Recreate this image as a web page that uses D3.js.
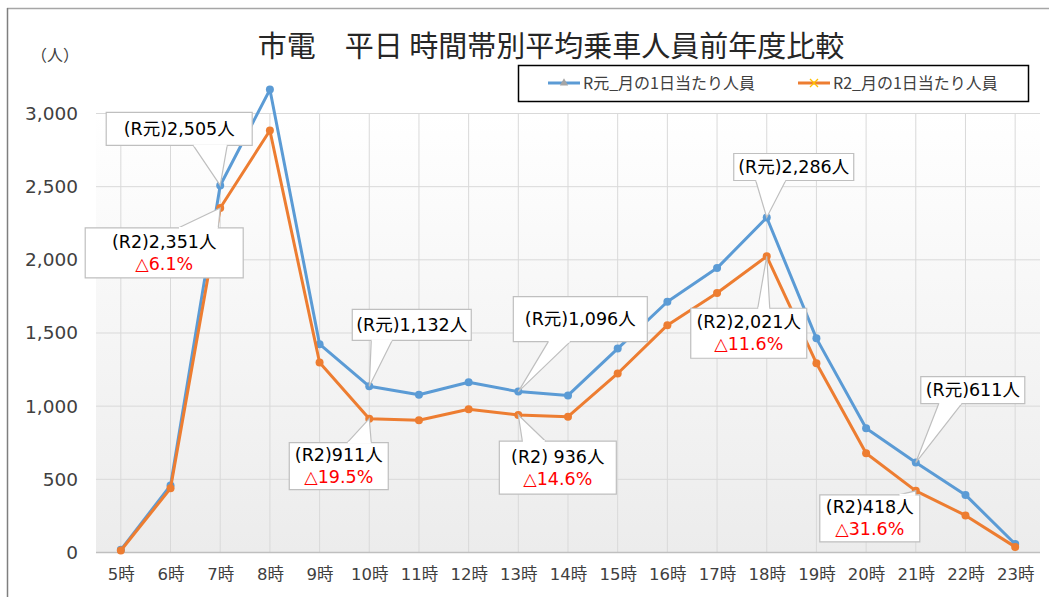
<!DOCTYPE html>
<html>
<head>
<meta charset="utf-8">
<script src="https://cdn.jsdelivr.net/npm/d3@7"></script>
<style>
  html, body { margin: 0; padding: 0; background: #fff; }
  svg { display: block; font-family: "Noto Sans CJK JP", "Noto Sans", sans-serif; }
  .num { font-family: "DejaVu Sans", "Noto Sans CJK JP", sans-serif; }
</style>
</head>
<body>
<svg id="chart" width="1049" height="597"></svg>
<script>
"use strict";

// data
var hours = ["5時","6時","7時","8時","9時","10時","11時","12時","13時","14時","15時","16時","17時","18時","19時","20時","21時","22時","23時"];
var r1Values = [15, 455, 2505, 3160, 1420, 1132, 1075, 1160, 1096, 1070, 1390, 1710, 1940, 2286, 1460, 845, 611, 390, 55];
var r2Values = [10, 435, 2351, 2880, 1295, 911, 900, 975, 936, 925, 1220, 1550, 1770, 2021, 1290, 675, 418, 250, 35];
var yTicks = [0, 500, 1000, 1500, 2000, 2500, 3000];
var seriesNames = ["R元_月の1日当たり人員", "R2_月の1日当たり人員"];

// callout texts
var noteHours  = ["7時", "7時", "10時", "10時", "13時", "13時", "18時", "18時", "21時", "21時"];
var noteSeries = [0, 1, 0, 1, 0, 1, 0, 1, 0, 1];
var noteLine1  = ["(R元)2,505人", "(R2)2,351人", "(R元)1,132人", "(R2)911人", "(R元)1,096人", "(R2) 936人", "(R元)2,286人", "(R2)2,021人", "(R元)611人", "(R2)418人"];
var noteLine2  = ["", "△6.1%", "", "△19.5%", "", "△14.6%", "", "△11.6%", "", "△31.6%"];

// callout box layout relative to its point: dx, dy, w, h, pointer side, pointer base x0, x1
var noteLayout = [
    [-114, -73, 146, 33, "bottom", -27, 7],
    [-135, 20, 158, 50, "top", -42, -2],
    [-17, -77, 119, 31, "bottom", 2, 23],
    [-80, 24, 99, 47, "top", -22, 2],
    [-5, -95, 134, 45, "bottom", 30, 52],
    [-19, 26, 117, 53, "top", 4, 27],
    [-33, -64, 120, 27, "bottom", -11, 19],
    [-76, 52, 116, 50, "top", -9, 3],
    [5, -86, 104, 27, "bottom", 23, 46],
    [-96, 4, 100, 47, "top", -17, 0]
];

var colors = ["#5B9BD5", "#ED7D31"];
var plot = {left: 96, right: 1040, top: 113, bottom: 552};

var svg = d3.select("#chart");

// frame
svg.append("line").attr("x1", 7).attr("x2", 1049).attr("y1", 8.5).attr("y2", 8.5)
    .attr("stroke", "#a6a6a6").attr("stroke-width", 1.5);
svg.append("line").attr("x1", 7.5).attr("x2", 7.5).attr("y1", 8).attr("y2", 597)
    .attr("stroke", "#7f7f7f").attr("stroke-width", 1.5);

// plot background gradient
var grad = svg.append("defs").append("linearGradient").attr("id", "bg")
    .attr("x1", 0).attr("y1", 0).attr("x2", 0).attr("y2", 1);
grad.append("stop").attr("offset", "0%").attr("stop-color", "#ffffff");
grad.append("stop").attr("offset", "100%").attr("stop-color", "#ececec");
svg.append("rect").attr("x", plot.left).attr("y", plot.top)
    .attr("width", plot.right - plot.left).attr("height", plot.bottom - plot.top)
    .attr("fill", "url(#bg)");

var x = d3.scalePoint().domain(hours).range([plot.left, plot.right]).padding(0.5);
var y = d3.scaleLinear().domain([0, 3000]).range([plot.bottom, plot.top]);

// grid
svg.append("g").selectAll("line").data(hours).enter().append("line")
    .attr("x1", d => x(d)).attr("x2", d => x(d))
    .attr("y1", plot.top).attr("y2", plot.bottom)
    .attr("stroke", "#d9d9d9");
svg.append("g").selectAll("line").data(yTicks).enter().append("line")
    .attr("x1", plot.left).attr("x2", plot.right)
    .attr("y1", d => y(d) + 0.5).attr("y2", d => y(d) + 0.5)
    .attr("stroke", d => d === 0 ? "#bfbfbf" : "#d9d9d9").attr("stroke-width", d => d === 0 ? 1.5 : 1);

// axes
var yAxis = svg.append("g").attr("transform", "translate(" + (plot.left - 15) + ",0)")
    .call(d3.axisLeft(y).tickValues(yTicks).tickFormat(d3.format(",")).tickSize(0));
yAxis.select(".domain").remove();
yAxis.attr("font-family", null);
yAxis.selectAll("text").attr("class", "num")
    .attr("font-size", 18.5).attr("fill", "#404040").attr("dy", "0.35em");

var xAxis = svg.append("g").attr("transform", "translate(0," + plot.bottom + ")")
    .call(d3.axisBottom(x).tickSize(0).tickPadding(16));
xAxis.select(".domain").remove();
xAxis.attr("font-family", null);
xAxis.selectAll("text").attr("class", "num")
    .attr("font-size", 16.5).attr("fill", "#404040");

// title & unit
svg.append("text").attr("x", 551).attr("y", 57).attr("text-anchor", "middle")
    .attr("font-size", 29).attr("fill", "#262626")
    .text("市電　平日 時間帯別平均乗車人員前年度比較");
svg.append("text").attr("x", 55).attr("y", 61).attr("text-anchor", "middle")
    .attr("font-size", 16).attr("fill", "#404040").text("（人）");

// lines
var line = d3.line().x((d, i) => x(hours[i])).y(d => y(d));
[r1Values, r2Values].forEach((vals, s) => {
    svg.append("path").datum(vals).attr("d", line)
        .attr("fill", "none").attr("stroke", colors[s]).attr("stroke-width", 3)
        .attr("stroke-linejoin", "round");
    svg.append("g").selectAll("circle").data(vals).enter().append("circle")
        .attr("cx", (d, i) => x(hours[i])).attr("cy", d => y(d)).attr("r", 4)
        .attr("fill", colors[s]);
});

// callouts
var seriesVals = [r1Values, r2Values];
noteHours.forEach((h, i) => {
    var px = x(h);
    var py = y(seriesVals[noteSeries[i]][hours.indexOf(h)]);
    var L = noteLayout[i];
    var bx = px + L[0], by = py + L[1], bw = L[2], bh = L[3];
    var baseY = L[4] === "top" ? by : by + bh;
    var g = svg.append("g");
    g.append("path")
        .attr("d", "M" + bx + "," + by + "H" + (bx + bw) + "V" + (by + bh) + "H" + bx + "Z")
        .attr("fill", "#fff").attr("stroke", "#bfbfbf").attr("stroke-width", 1.2);
    g.append("path")
        .attr("d", "M" + (px + L[5]) + "," + baseY + "L" + px + "," + py + "L" + (px + L[6]) + "," + baseY)
        .attr("fill", "#fff").attr("stroke", "#bfbfbf").attr("stroke-width", 1.2);
    g.append("line").attr("x1", px + L[5] + 0.6).attr("x2", px + L[6] - 0.6)
        .attr("y1", baseY).attr("y2", baseY).attr("stroke", "#fff").attr("stroke-width", 2);
    var cx = bx + bw / 2;
    if (noteLine2[i]) {
        g.append("text").attr("class", "num").attr("x", cx).attr("y", by + bh / 2 - 11).attr("dy", "0.35em")
            .attr("text-anchor", "middle").attr("font-size", 17.5).attr("fill", "#000").text(noteLine1[i]);
        g.append("text").attr("class", "num").attr("x", cx).attr("y", by + bh / 2 + 11).attr("dy", "0.35em")
            .attr("text-anchor", "middle").attr("font-size", 17.5).attr("fill", "#ff0000").text(noteLine2[i]);
    } else {
        g.append("text").attr("class", "num").attr("x", cx).attr("y", by + bh / 2).attr("dy", "0.35em")
            .attr("text-anchor", "middle").attr("font-size", 17.5).attr("fill", "#000").text(noteLine1[i]);
    }
});

// legend
var lg = svg.append("g");
lg.append("rect").attr("x", 518.5).attr("y", 65.5).attr("width", 510).attr("height", 36)
    .attr("fill", "#fff").attr("stroke", "#000").attr("stroke-width", 1.5);
var legendX = [548, 798];
seriesNames.forEach((name, s) => {
    var lx = legendX[s];
    lg.append("line").attr("x1", lx).attr("x2", lx + 32).attr("y1", 83).attr("y2", 83)
        .attr("stroke", colors[s]).attr("stroke-width", 3);
    if (s === 0) {
        lg.append("path").attr("d", d3.symbol(d3.symbolTriangle, 30)())
            .attr("transform", "translate(" + (lx + 16) + ",83)").attr("fill", "#a5a5a5");
    } else {
        lg.append("path").attr("d", "M-4,-4L4,4M-4,4L4,-4")
            .attr("transform", "translate(" + (lx + 16) + ",83)")
            .attr("stroke", "#ffc000").attr("stroke-width", 1.3);
    }
    lg.append("text").attr("x", lx + 35).attr("y", 83).attr("dy", "0.36em")
        .attr("font-size", 16).attr("fill", "#404040").text(name);
});
</script>
</body>
</html>
